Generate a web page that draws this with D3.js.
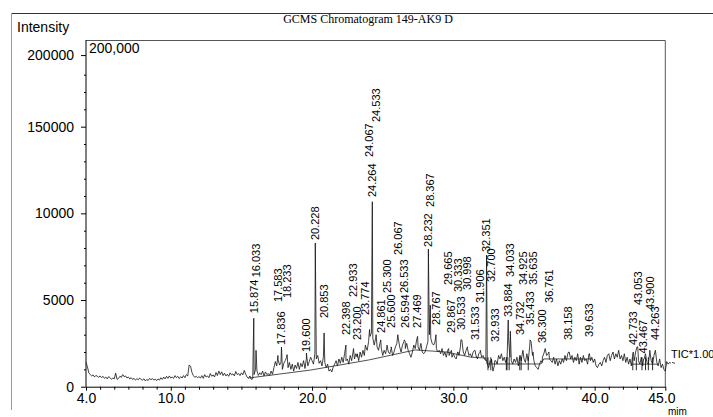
<!DOCTYPE html>
<html>
<head>
<meta charset="utf-8">
<script src="https://cdn.jsdelivr.net/npm/d3@7"></script>
<style>
	body { margin: 0; background: #fff; }
	text { font-family: Arial, "Liberation Sans", sans-serif; }
</style>
</head>
<body>
<script>
// retention time grid starts at 4.0 min, one reading every 0.1 min
const signalStart = 4.0;
const signalStep = 0.1;
const signalValues = [
	1400, 1150, 800, 700, 620, 680, 560, 650, 600, 540,
	620, 520, 600, 480, 560, 450, 580, 520, 430, 500,
	450, 780, 420, 480, 600, 540, 700, 580, 620, 500,
	560, 450, 520, 420, 480, 380, 460, 400, 500, 420,
	380, 460, 330, 420, 360, 480, 400, 470, 380, 440,
	350, 450, 380, 520, 420, 560, 450, 600, 480, 620,
	500, 560, 480, 640, 520, 600, 470, 580, 500, 640,
	520, 700, 620, 1250, 1180, 820, 640, 540, 600, 520,
	580, 500, 640, 480, 700, 560, 620, 520, 760, 600,
	680, 560, 820, 640, 900, 700, 860, 640, 780, 620,
	720, 600, 800, 680, 740, 620, 880, 700, 760, 640,
	800, 680, 940, 720, 560, 480, 620, 420, 450, 700,
	1000, 900, 650, 800, 700, 900, 620, 850, 700, 760,
	650, 900, 720, 1100, 1450, 1200, 1550, 1250, 1400, 1000,
	1350, 1500, 1700, 1100, 1400, 1000, 1300, 900, 1250, 1050,
	1400, 1000, 1350, 1150, 1500, 1050, 1650, 1200, 1450, 1700,
	1500, 1300, 1900, 1600, 1800, 1350, 1500, 1200, 1700, 1400,
	1100, 1300, 900, 1000, 850, 1150, 1300, 1500, 1200, 1600,
	1350, 1700, 1400, 1900, 1500, 1600, 1300, 1800, 1500, 2000,
	1600, 1900, 1700, 1500, 2000, 1700, 2100, 1800, 2300, 2100,
	2600, 2900, 3100, 2800, 2400, 2800, 2300, 2100, 2500, 2200,
	1800, 2100, 1900, 2300, 2000, 1900, 2200, 1800, 2000, 2300,
	2500, 2800, 2300, 2000, 2400, 2600, 2200, 2500, 2100, 1900,
	1700, 2000, 2400, 2200, 2700, 2300, 2100, 2500, 2000, 1900,
	2000, 2300, 2600, 3000, 2800, 2500, 2400, 2600, 2200, 2000,
	2100, 1900, 2200, 1800, 2000, 1700, 2100, 1800, 2000, 1700,
	1900, 1700, 1600, 2000, 1800, 2300, 2700, 2000, 1800, 2100,
	2200, 1800, 1900, 1700, 2000, 2100, 1800, 1600, 1900, 2000,
	1700, 1800, 1600, 1500, 1300, 1100, 1500, 1400, 900, 1200,
	1500, 1300, 1800, 1600, 1900, 1500, 1700, 1400, 1600, 2900,
	1700, 1500, 1300, 1600, 1400, 1700, 1200, 1800, 1500, 2000,
	1600, 1400, 1900, 1500, 2300, 2600, 1800, 1500, 1200, 1100,
	1000, 1300, 1500, 1400, 1900, 2200, 1800, 1900, 1600, 1500,
	1400, 1700, 1300, 1600, 1200, 1500, 1300, 1600, 1400, 1800,
	1500, 1900, 2000, 1600, 1800, 1400, 1700, 1500, 1900, 1300,
	1700, 1400, 1800, 1500, 1600, 1300, 1900, 1500, 1700, 1400,
	1600, 1200, 1100, 1300, 1400, 1200, 1500, 1700, 1400, 1800,
	1900, 1500, 1800, 2000, 1600, 1900, 1700, 2100, 1600, 1800,
	1500, 1900, 1400, 1700, 1300, 1600, 1200, 1900, 1500, 2000,
	2300, 1500, 1300, 1700, 1200, 1600, 1900, 1400, 1300, 2000,
	1500, 1300, 1800, 2100, 1400, 1200, 1600, 1100, 1300, 1000,
	900, 1450, 1300, 1400, 1350
];

// labelled peaks: retention time, apex height, label level (bottom of text)
const peakRT = [15.874, 16.033, 17.583, 17.836, 18.233, 19.600, 20.228, 20.853, 22.398, 22.933,
	23.200, 23.774, 24.067, 24.264, 24.533, 24.861, 25.300, 25.600, 26.067, 26.533,
	26.594, 27.469, 28.232, 28.367, 28.767, 29.665, 29.867, 30.333, 30.533, 30.998,
	31.533, 31.906, 32.351, 32.700, 32.933, 33.884, 34.033, 34.732, 34.925, 35.433,
	35.635, 36.300, 36.761, 38.158, 39.633, 42.733, 43.053, 43.467, 43.900, 44.263];
const peakHeight = [3950, 2100, 1800, 2290, 1850, 1940, 8290, 3100, 2400, 2200,
	1900, 2400, 3300, 10670, 3000, 2700, 2400, 2300, 3000, 2700,
	2600, 2900, 7940, 4700, 3000, 2200, 2100, 2000, 2700, 2300,
	2100, 2100, 7590, 1600, 1500, 3850, 3200, 1800, 2100, 2700,
	2000, 1700, 2000, 2000, 1900, 2000, 2300, 1600, 2100, 2000];
const labelLevel = [4240, 6310, 4880, 2400, 5110, 2000, 8460, 3960, 2980, 5170,
	2690, 4130, 13250, 10940, 15270, 3100, 5400, 3390, 7600, 5400,
	3390, 3390, 8060, 10370, 3560, 5860, 3100, 5460, 3270, 5580,
	2690, 4830, 7770, 6040, 2580, 4020, 6330, 2980, 5860, 3560,
	5860, 2520, 4830, 2690, 2870, 2400, 4710, 1920, 4420, 2690];

// integration baseline (null = gap)
const baselineRT = [15.5, 19.9, 24.0, 27.3, 29.5, 31.2, 32.3, 32.4, 36.2, 36.4, 39.8, 40.0, 42.6, 44.5];
const baselineVal = [500, 960, 1540, 2120, 2000, 1710, 1650, 1310, 1310, 1600, 1600, null, 1300, 1300];
const boundaryRT = [32.45, 32.65, 33.75, 33.8, 33.95, 34.7, 34.8, 35.3, 42.7, 42.95, 43.35, 43.6, 43.8, 44.1];

const xTicks = [4, 10, 20, 30, 40, 45];
const yTicks = [0, 5000, 10000, 15000, 19130];
const yTickLabels = ["0", "5000", "10000", "150000", "200000"];

const W = 713, H = 417;
const svg = d3.select("body").append("svg").attr("width", W).attr("height", H);

const x = d3.scaleLinear().domain([4, 45]).range([86, 665.3]);
const y = d3.scaleLinear().domain([0, 20000]).range([386.7, 40]);

// outer frame
svg.append("line").attr("x1", 11).attr("y1", 13.5).attr("x2", W).attr("y2", 13.5)
	.attr("stroke", "#333").attr("stroke-width", 1);
svg.append("line").attr("x1", 11.5).attr("y1", 13).attr("x2", 11.5).attr("y2", 410)
	.attr("stroke", "#999").attr("stroke-width", 1);

svg.append("text").attr("x", 368).attr("y", 23).attr("text-anchor", "middle")
	.style("font-family", "'Liberation Serif', 'Times New Roman', serif").style("font-size", "12px")
	.text("GCMS Chromatogram 149-AK9 D");
svg.append("text").attr("x", 17).attr("y", 32).style("font-size", "14px").text("Intensity");
svg.append("text").attr("x", 89).attr("y", 53).style("font-size", "14px").text("200,000");

// plot frame (top & right)
svg.append("path")
	.attr("d", `M${x(4)},${y(20000) + 0.5}H${x(45)}V${y(0)}`)
	.attr("fill", "none").attr("stroke", "#555");

// minor ticks
let yMinor = d3.range(1000, 19000, 1000).filter(d => d % 5000 != 0);
svg.append("g").attr("transform", `translate(${x(4)},0)`)
	.call(d3.axisLeft(y).tickValues(yMinor).tickSize(2).tickSizeOuter(0).tickFormat(""))
	.call(g => g.select(".domain").remove());
let xMinor = d3.range(5, 45, 1).filter(d => xTicks.indexOf(d) < 0);
svg.append("g").attr("transform", `translate(0,${y(0)})`)
	.call(d3.axisBottom(x).tickValues(xMinor).tickSize(3).tickSizeOuter(0).tickFormat(""))
	.call(g => g.select(".domain").remove());

// main axes
let yAxis = svg.append("g").attr("transform", `translate(${x(4)},0)`)
	.call(d3.axisLeft(y).tickValues(yTicks).tickSize(5).tickPadding(7).tickSizeOuter(0)
		.tickFormat((d, i) => yTickLabels[i]));
yAxis.selectAll("text").style("font-size", "14px").attr("fill", "#000");
yAxis.select(".domain").attr("d", `M0,${y(20000)}V${y(0)}`);

let xAxis = svg.append("g").attr("transform", `translate(0,${y(0)})`)
	.call(d3.axisBottom(x).tickValues(xTicks).tickSize(4).tickPadding(2).tickSizeOuter(0)
		.tickFormat(d3.format(".1f")));
xAxis.selectAll("text").style("font-size", "14px").attr("fill", "#000")
	.attr("dx", d => d == 45 ? -4 : 0);

svg.append("text").attr("x", 668).attr("y", 415).style("font-size", "10px").text("mim");

// build trace: grid readings plus peak apexes, sorted by time
let trace = signalValues.map((v, i) => [+(signalStart + i * signalStep).toFixed(2), v]);
peakRT.forEach((t, i) => trace.push([t, peakHeight[i]]));
trace.sort((a, b) => a[0] - b[0]);

let line = d3.line().x(d => x(d[0])).y(d => y(d[1]));
svg.append("path").datum(trace)
	.attr("d", line)
	.attr("fill", "none").attr("stroke", "#111").attr("stroke-width", 0.8);

// integration baseline
let baseData = baselineRT.map((t, i) => [t, baselineVal[i]]);
svg.append("path").datum(baseData)
	.attr("d", d3.line().defined(d => d[1] != null).x(d => x(d[0])).y(d => y(d[1])))
	.attr("fill", "none").attr("stroke", "#222").attr("stroke-width", 0.8);

svg.selectAll(".bnd").data(boundaryRT).enter().append("line")
	.attr("class", "bnd")
	.attr("x1", d => x(d)).attr("x2", d => x(d))
	.attr("y1", y(1700)).attr("y2", y(950))
	.attr("stroke", "#111").attr("stroke-width", 0.9);

// peak labels
svg.selectAll(".plab").data(peakRT).enter().append("text")
	.attr("class", "plab")
	.attr("transform", (d, i) => `translate(${x(d)},${y(labelLevel[i])}) rotate(-90)`)
	.attr("dy", "0.35em")
	.style("font-size", "11px")
	.text(d => d.toFixed(3));

// trace tail beyond axis and TIC label
svg.append("line").attr("x1", 672).attr("y1", y(1400)).attr("x2", 675).attr("y2", y(1350))
	.attr("stroke", "#111").attr("stroke-width", 0.8);
svg.append("text").attr("x", 671).attr("y", 358).style("font-size", "11px").text("TIC*1.00");
</script>
</body>
</html>
